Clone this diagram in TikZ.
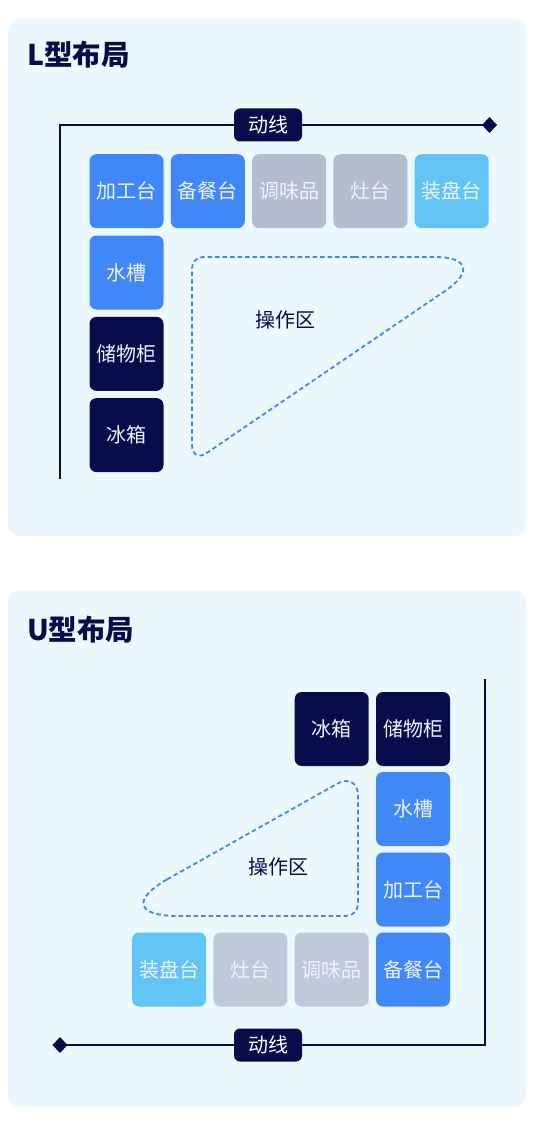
\documentclass[tikz,border=0pt]{standalone}
\usepackage{fontspec}
\setmainfont{Noto Sans CJK SC}
\usetikzlibrary{arrows.meta,calc}
\definecolor{navy}{HTML}{060D4A}
\definecolor{cookblue}{HTML}{3F88F5}
\definecolor{cookgray}{HTML}{B3BDCD}
\definecolor{cookgrayu}{HTML}{BFC9D7}
\definecolor{cooksky}{HTML}{62C4F5}
\definecolor{panelbg}{HTML}{EBF8FE}
\definecolor{boxtext}{HTML}{EEF2FB}

\begin{document}
\begin{tikzpicture}[x=1pt,y=-1pt,
    panel/.style={fill=panelbg,rounded corners=12pt},
    title/.style={anchor=west,inner sep=0pt,text=navy,font=\fontsize{28.5pt}{32pt}\selectfont\bfseries},
    unit/.style={rounded corners=7pt,minimum size=74pt,inner sep=0pt,text=boxtext,font=\fontsize{20pt}{24pt}\selectfont},
    flow/.style={draw=navy,line width=2.9pt,-{Diamond[length=15pt,width=16pt]}},
    flowtag/.style={fill=navy,text=white,rounded corners=6pt,minimum width=68pt,minimum height=33pt,inner sep=0pt,font=\fontsize{20pt}{24pt}\selectfont},
    zone/.style={draw=cookblue,line width=1.8pt,dash pattern=on 4.5pt off 3pt},
    zonetag/.style={text=navy,font=\fontsize{20pt}{24pt}\selectfont}]
                \useasboundingbox (0,0) rectangle (546,1126);
                \fill[panel] (8,19) rectangle (526,536);
                \fill[panel] (8,590) rectangle (526,1107);
                % L layout
                \node[title] (ltitle) at (27,55) {L型布局};
                \coordinate (lfrom) at (60,479);
                \coordinate (lto) at (497,125);
                \draw[flow] (lfrom) |- (lto);
                \node[flowtag] (lflow) at (268,125) {动线};
                \foreach \x/\y/\n/\t/\c in {126.5/191.2/lprep/加工台/cookblue, 207.8/191.2/lserve/备餐台/cookblue, 289.1/191.2/lspice/调味品/cookgray, 370.4/191.2/lstove/灶台/cookgray, 451.7/191.2/lplate/装盘台/cooksky, 126.5/272.5/lsink/水槽/cookblue, 126.5/353.8/lstore/储物柜/navy, 126.5/435.1/lfridge/冰箱/navy}
                \node[unit,fill=\c] (\n) at (\x,\y) {\t};
                \coordinate (lzA) at (192,257);
                \coordinate (lzB) at (495,257);
                \coordinate (lzC) at (192,463);
                \draw[zone] ($(lzA)!.5!(lzB)$) [rounded corners=60pt] -- (lzB) -- ($(lzB)!.5!(lzC)$) [rounded corners=18pt] -- (lzC) -- ($(lzC)!.5!(lzA)$) [rounded corners=11pt] -- (lzA) -- cycle;
                \node[zonetag] (lzone) at (285.5,320) {操作区};
                % U layout
                \node[title] (utitle) at (27,630) {U型布局};
                \coordinate (ufrom) at (485,679);
                \coordinate (uto) at (52.5,1045);
                \draw[flow] (ufrom) |- (uto);
                \node[flowtag] (uflow) at (268,1045) {动线};
                \foreach \x/\y/\n/\t/\c in {331.7/729/ufridge/冰箱/navy, 413/729/ustore/储物柜/navy, 413/809/usink/水槽/cookblue, 413/889.5/uprep/加工台/cookblue, 413/969.5/userve/备餐台/cookblue, 331.7/969.5/uspice/调味品/cookgrayu, 250.4/969.5/ustove/灶台/cookgrayu, 169.1/969.5/uplate/装盘台/cooksky}
                \node[unit,fill=\c] (\n) at (\x,\y) {\t};
                \coordinate (uzA) at (358,772);
                \coordinate (uzB) at (358,916);
                \coordinate (uzC) at (102,916);
                \draw[zone] ($(uzA)!.5!(uzB)$) [rounded corners=12pt] -- (uzB) -- ($(uzB)!.5!(uzC)$) [rounded corners=76pt] -- (uzC) -- ($(uzC)!.5!(uzA)$) [rounded corners=24pt] -- (uzA) -- cycle;
                \node[zonetag] (uzone) at (278.3,866.5) {操作区};
\end{tikzpicture}
\end{document}
